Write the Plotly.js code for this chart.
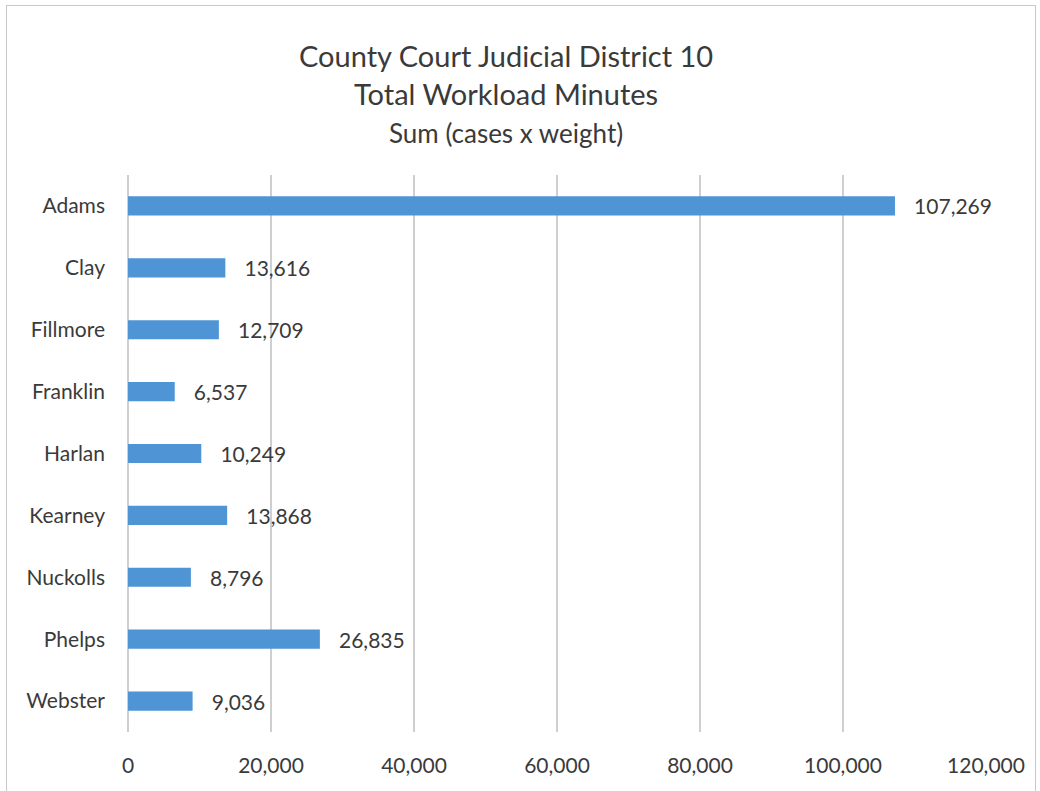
<!DOCTYPE html>
<html>
<head>
<meta charset="utf-8">
<script src="https://cdn.plot.ly/plotly-3.0.1.min.js"></script>
<style>
  html, body { margin: 0; padding: 0; background: #fff; }
  #frame { position: absolute; left: 6px; top: 5px; width: 1030px; height: 800px; border: 1.5px solid #c8c8c8; box-sizing: border-box; }
  #chart { position: absolute; left: 0; top: 0; width: 1040px; height: 791px; }
</style>
</head>
<body>
<div id="frame"></div>
<div id="chart"></div>
<script>
const counties = ["Adams", "Clay", "Fillmore", "Franklin", "Harlan", "Kearney", "Nuckolls", "Phelps", "Webster"];
const workloadMinutes = [107269, 13616, 12709, 6537, 10249, 13868, 8796, 26835, 9036];
const xTickValues = [0, 20000, 40000, 60000, 80000, 100000, 120000];
const xTickLabels = ["0", "20,000", "40,000", "60,000", "80,000", "100,000", "120,000"];
const titleLines = ["County Court Judicial District 10", "Total Workload Minutes", "Sum (cases x weight)"];

const fontFamily = "Lato, 'Open Sans', 'Liberation Sans', sans-serif";
const textColor = "#3a3a3a";

const trace = {
  type: "bar",
  orientation: "h",
  y: counties,
  x: workloadMinutes,
  marker: { color: "#4f94d4" },
  text: workloadMinutes.map(v => "   " + v.toLocaleString("en-US")),
  textposition: "outside",
  constraintext: "none",
  cliponaxis: false,
  textfont: { family: fontFamily, size: 21, color: textColor },
  outsidetextfont: { family: fontFamily, size: 21, color: textColor },
  hoverinfo: "none"
};

const layout = {
  width: 1040,
  height: 791,
  margin: { l: 128, r: 54, t: 175, b: 59 },
  paper_bgcolor: "rgba(0,0,0,0)",
  plot_bgcolor: "rgba(0,0,0,0)",
  bargap: 0.69,
  showlegend: false,
  font: { family: fontFamily, color: textColor },
  xaxis: {
    range: [0, 120000],
    tickvals: xTickValues,
    ticktext: xTickLabels,
    showgrid: true,
    gridcolor: "#cfcfcf",
    gridwidth: 1.2,
    zeroline: true,
    zerolinecolor: "#cfcfcf",
    zerolinewidth: 1.2,
    showline: false,
    ticks: "",
    ticklabelstandoff: 19,
    tickfont: { family: fontFamily, size: 21, color: textColor },
    fixedrange: true
  },
  yaxis: {
    autorange: "reversed",
    showgrid: false,
    zeroline: false,
    showline: false,
    ticks: "",
    ticklabelstandoff: 22,
    tickfont: { family: fontFamily, size: 21, color: textColor },
    fixedrange: true
  },
  annotations: [
    { text: titleLines[0], x: 0.44, y: 1.214, xref: "paper", yref: "paper", xanchor: "center", yanchor: "middle", showarrow: false, font: { family: fontFamily, size: 29, color: textColor } },
    { text: titleLines[1], x: 0.44, y: 1.146, xref: "paper", yref: "paper", xanchor: "center", yanchor: "middle", showarrow: false, font: { family: fontFamily, size: 29, color: textColor } },
    { text: titleLines[2], x: 0.44, y: 1.075, xref: "paper", yref: "paper", xanchor: "center", yanchor: "middle", showarrow: false, font: { family: fontFamily, size: 26, color: textColor } }
  ]
};

Plotly.newPlot("chart", [trace], layout, { displayModeBar: false, staticPlot: true });
</script>
</body>
</html>
